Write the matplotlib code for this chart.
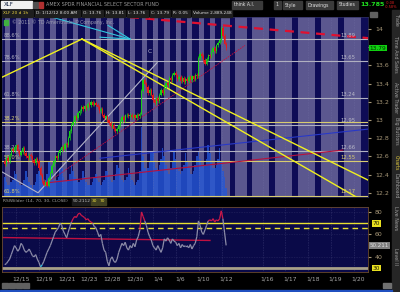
import matplotlib
matplotlib.use('Agg')
import matplotlib.pyplot as plt
import numpy as np
from matplotlib.collections import LineCollection
from matplotlib.patches import Rectangle
import matplotlib.transforms as mtransforms

# ---- data (XLF, 20 days of 1h bars) ----
days = ['12/14', '12/15', '12/16', '12/19', '12/20', '12/21', '12/22', '12/23', '12/27', '12/28',
        '12/29', '12/30', '1/3', '1/4', '1/5', '1/6', '1/9', '1/10', '1/11', '1/12']
future_days = ['1/13', '1/16', '1/17', '1/18', '1/19', '1/20']
labeled_days = ['12/15', '12/19', '12/21', '12/23', '12/28', '12/30', '1/4', '1/6', '1/10', '1/12',
                '1/16', '1/17', '1/18', '1/19', '1/20']

first_open = 12.55
closes = [
    [12.52, 12.58, 12.55, 12.62, 12.68, 12.66, 12.70],
    [12.72, 12.66, 12.62, 12.65, 12.69, 12.64, 12.60],
    [12.58, 12.62, 12.60, 12.56, 12.53, 12.57, 12.55],
    [12.47, 12.40, 12.33, 12.29, 12.32, 12.28, 12.36],
    [12.42, 12.50, 12.55, 12.60, 12.58, 12.64, 12.67],
    [12.70, 12.68, 12.74, 12.72, 12.80, 12.88, 12.95],
    [12.98, 13.04, 13.02, 13.08, 13.10, 13.14, 13.12],
    [13.15, 13.13, 13.18, 13.16, 13.20, 13.17, 13.19],
    [13.17, 13.14, 13.10, 13.12, 13.06, 13.02, 13.04],
    [13.00, 12.97, 12.93, 12.95, 12.90, 12.88, 12.90],
    [12.94, 12.99, 13.03, 13.00, 13.05, 13.06, 13.04],
    [13.06, 13.03, 13.05, 13.02, 13.06, 13.04, 13.07],
    [13.32, 13.44, 13.40, 13.36, 13.30, 13.33, 13.28],
    [13.22, 13.19, 13.24, 13.21, 13.28, 13.33, 13.30],
    [13.36, 13.41, 13.38, 13.46, 13.44, 13.50, 13.52],
    [13.49, 13.45, 13.47, 13.43, 13.46, 13.42, 13.45],
    [13.43, 13.47, 13.44, 13.48, 13.45, 13.50, 13.48],
    [13.68, 13.73, 13.70, 13.66, 13.62, 13.67, 13.71],
    [13.70, 13.75, 13.79, 13.76, 13.82, 13.85, 13.88],
    [14.01, 13.92, 13.84, 13.79],
]
# volume per hourly bar, millions of shares
volumes = [
    [7, 5, 4, 4, 5, 6, 9],
    [8, 5, 4, 4, 4, 6, 9],
    [7, 5, 4, 3, 4, 5, 8],
    [9, 7, 6, 5, 6, 8, 12],
    [11, 8, 6, 5, 6, 7, 10],
    [10, 7, 6, 5, 6, 8, 11],
    [9, 7, 6, 5, 5, 6, 9],
    [7, 5, 4, 4, 4, 5, 7],
    [8, 6, 5, 4, 5, 6, 9],
    [9, 7, 6, 5, 6, 8, 11],
    [10, 7, 6, 5, 6, 7, 10],
    [8, 6, 5, 4, 5, 6, 9],
    [24, 14, 10, 9, 10, 12, 16],
    [15, 12, 10, 9, 11, 13, 17],
    [14, 11, 9, 8, 10, 12, 16],
    [13, 10, 9, 8, 9, 11, 15],
    [12, 10, 8, 8, 9, 11, 14],
    [16, 13, 11, 10, 11, 13, 18],
    [15, 12, 10, 10, 11, 13, 17],
    [12, 9, 7, 3],
]
rsi_values = [
    [33, 34, 36, 38, 42, 46, 50],
    [48, 45, 47, 52, 50, 46, 44],
    [45, 47, 44, 41, 40, 42, 38],
    [35, 31, 33, 36, 40, 44, 47],
    [50, 54, 58, 62, 64, 66, 70],
    [68, 63, 60, 57, 62, 67, 71],
    [74, 76, 75, 78, 79, 77, 76],
    [75, 73, 74, 72, 71, 70, 67],
    [66, 62, 58, 60, 52, 46, 44],
    [36, 32, 38, 40, 36, 35, 38],
    [44, 48, 52, 50, 53, 48, 46],
    [50, 48, 52, 49, 55, 58, 64],
    [80, 76, 72, 68, 62, 58, 55],
    [50, 48, 46, 50, 47, 44, 48],
    [56, 54, 57, 55, 52, 56, 54],
    [53, 50, 52, 48, 51, 49, 50],
    [50, 48, 51, 47, 50, 52, 58],
    [72, 68, 62, 60, 64, 68, 72],
    [73, 72, 74, 71, 73, 72, 74],
    [81, 74, 62, 50.21],
]

price_ticks = [12.2, 12.4, 12.6, 12.8, 13.0, 13.2, 13.4, 13.6, 13.8, 14.0]
gray_fib = [13.89, 13.65, 13.24, 12.95, 12.66]
gray_fib_pct = ['88.6%', '78.6%', '61.8%', '', '38.2%']
gray_fib_tag = ['13.89', '13.65', '13.24', '12.95', '12.66']
yellow_fib = [12.98, 12.55, 12.17]
yellow_fib_pct = ['38.2%', '50.0%', '61.8%']
yellow_fib_tag = ['', '12.55', '12.17']

# drawings: anchor points as (day position, price)
wedge_up = [(-0.67, 13.47), (6.35, 13.89)]
fan_upper = [(6.35, 13.89), (31.45, 12.34)]
fan_lower = [(6.35, 13.89), (31.45, 12.08)]
cyan_arrow = [[(3.72, 14.13), (10.57, 13.89)], [(8.63, 14.04), (10.57, 13.89)],
              [(7.93, 13.91), (10.57, 13.89)]]
red_dash = [(10.57, 14.13), (31.45, 13.90)]
red_steep = [(3.28, 12.31), (20.65, 13.82)]
red_flat = [(3.28, 12.31), (29.25, 12.67)]
blue_avg = [(7.93, 12.58), (31.45, 12.90)]
gray_v = [(-0.67, 12.43), (2.49, 12.20), (12.94, 13.63)]
rsi_red = [(-0.67, 57.2), (17.58, 54.6)]
last_price = 13.79
last_rsi = 50.211

# ---- layout ----
W, H = 400, 292
XLIM = (-0.67, 31.45)
BG_DARK = '#0e0c56'
BG_LIGHT = '#5b578f'
TAN = '#a89878'

fig = plt.figure(figsize=(W / 100, H / 100), dpi=100, facecolor='black')


def fx(x):
    return x / W


def fy(y):
    return 1 - y / H


def frame(x0, y0, x1, y1):
    return [fx(x0), fy(y1), (x1 - x0) / W, (y1 - y0) / H]


def box(x0, y0, x1, y1, color, z=1):
    fig.patches.append(Rectangle((fx(x0), fy(y1)), (x1 - x0) / W, (y1 - y0) / H,
                                 transform=fig.transFigure, color=color, zorder=z))


def label(x, y, s, color='#c8c8c8', size=4.2, **kw):
    fig.text(fx(x), fy(y), s, color=color, fontsize=size, va='center', zorder=5, **kw)


# bar positions: 7 hourly bars per day
bar_x, bar_c = [], []
for i, day in enumerate(closes):
    for k, c in enumerate(day):
        bar_x.append(i - 0.5 + (k + 0.5) / 7)
        bar_c.append(c)
bar_x = np.array(bar_x)
bar_c = np.array(bar_c)
bar_o = np.concatenate([[first_open], bar_c[:-1]])
bar_v = np.concatenate([np.array(v, float) for v in volumes])
bar_r = np.concatenate([np.array(r, float) for r in rsi_values])

# tick positions for past and future days
day_pos = {d: i for i, d in enumerate(days)}
for k, d in enumerate(future_days):
    day_pos[d] = len(days) - 1 + 1.6 + 2 * k
tick_x = [day_pos[d] for d in labeled_days]

# session shading
bands = [(i - 0.42, i + 0.03) for i in range(len(days) - 1)]
bands.append((len(days) - 1.42, len(days) - 0.7))
for d in future_days:
    x = day_pos[d]
    start = max(bands[-1][1] + 0.5, x - 1.3)
    bands.append((start, x + 0.2))

# ---- background + volume ----
bg = fig.add_axes(frame(2, 17, 368, 197))
bg.set_facecolor(BG_DARK)
for a, b in bands:
    bg.axvspan(a, b, color=BG_LIGHT, lw=0)
bg.bar(bar_x, bar_v, width=1 / 7, color='#2457d6', alpha=0.8, lw=0)
bg.set_xlim(XLIM)
bg.set_ylim(0, 62)
for t in tick_x:
    bg.axvline(t - 0.4, color='#8080b0', lw=0.4, ls=(0, (1, 2)), alpha=0.6)
bg.set_xticks([])
bg.set_yticks([])
for s in bg.spines.values():
    s.set_color('#303060')
    s.set_linewidth(0.5)

# ---- price overlay ----
ax = fig.add_axes(frame(2, 17, 368, 197))
ax.set_zorder(bg.get_zorder() + 1)
ax.patch.set_visible(False)
ax.set_xlim(XLIM)
ax.set_ylim(12.154, 14.132)

for lvl in gray_fib:
    ax.axhline(lvl, color='#b0b0c0', lw=0.8)
for lvl in yellow_fib:
    ax.axhline(lvl, color='#d8cc70', lw=0.8)
ax.axhline(12.145, color='#b0b0a0', lw=1.0)


def draw(pts, **kw):
    xs, ys = zip(*pts)
    ax.plot(xs, ys, **kw)


draw(blue_avg, color='#2838c8', lw=0.8)
draw(red_flat, color='#b8103c', lw=0.8)
draw(red_steep, color='#c8103c', lw=0.6, ls=(0, (2, 1)))
draw(gray_v, color='#b4b4c8', lw=0.8)
draw(wedge_up, color='#f0f020', lw=1.0)
draw(fan_upper, color='#f0f020', lw=1.0)
draw(fan_lower, color='#f0f020', lw=1.0)
draw(red_dash, color='#e01030', lw=1.6, ls=(0, (4, 3)))
for seg in cyan_arrow:
    draw(seg, color='#30c8e0', lw=0.8)
ax.text(12.33, 13.75, 'C', color='#b8b8c8', fontsize=4.2, ha='center', va='center')

# candles
wick = 0.02
up = bar_c >= bar_o
colors = np.where(up, '#18d018', '#e81818')
hi = np.maximum(bar_o, bar_c) + wick
lo = np.minimum(bar_o, bar_c) - wick
ax.vlines(bar_x, lo, hi, colors=colors, lw=0.5, zorder=4)
ax.bar(bar_x, np.maximum(np.abs(bar_c - bar_o), 0.006), bottom=np.minimum(bar_o, bar_c),
       width=0.11, color=colors, lw=0, zorder=5)

ax.set_xticks([])
ax.yaxis.tick_right()
ax.set_yticks(price_ticks)
# the 13.8 label sits under the last-price flag in the reference
ax.set_yticklabels(['' if abs(p - last_price) < 0.05 else '%g' % p for p in price_ticks])
ax.tick_params(axis='y', length=2, colors=TAN, labelsize=4.5, pad=3)
for s in ax.spines.values():
    s.set_visible(False)

# fib labels
ytr = mtransforms.blended_transform_factory(ax.transAxes, ax.transData)
for lvl, pct, tag in zip(gray_fib, gray_fib_pct, gray_fib_tag):
    ax.text(0.004, lvl + 0.012, pct, transform=ytr, color='#b0b0c0', fontsize=3.8, va='bottom')
    ax.text(0.945, lvl + 0.012, tag, transform=ytr, color='#b8b8c8', fontsize=3.8, va='bottom', ha='center')
for lvl, pct, tag in zip(yellow_fib, yellow_fib_pct, yellow_fib_tag):
    ax.text(0.004, lvl + 0.012, pct, transform=ytr, color='#d8cc70', fontsize=3.8, va='bottom')
    ax.text(0.945, lvl + 0.012, tag, transform=ytr, color='#d8cc70', fontsize=3.8, va='bottom', ha='center')
ax.text(1.005, last_price, '%.2f' % last_price, transform=ytr, color='#003000', fontsize=4.2,
        va='center', ha='left', bbox=dict(boxstyle='square,pad=0.15', fc='#10d010', ec='none'), zorder=10)
ax.text(0.028, 0.985, '\u00a9 2011 \u00a9 TD Ameritrade IP Company, Inc.', transform=ax.transAxes,
        color='#9a9ab0', fontsize=3.4, va='top')
ax.add_patch(Rectangle((0.006, 0.955), 0.01, 0.028, transform=ax.transAxes, color='#40b040'))

# ---- RSI panel ----
rax = fig.add_axes(frame(2, 207, 368, 272))
rax.set_facecolor('#0a0a48')
rax.set_xlim(XLIM)
rax.set_ylim(26.5, 84.4)
for t in tick_x:
    rax.axvline(t - 0.4, color='#505088', lw=0.4, ls=(0, (1, 2)))
for lvl in (80, 60, 40):
    rax.axhline(lvl, color='#3c3c70', lw=0.4, ls=(0, (1, 2)))
rax.axhline(70, color='#e8e030', lw=1.0)
rax.axhline(66, color='#e8e030', lw=1.0, ls=(0, (4, 3)))
rax.axhline(30, color='#a8a088', lw=2.0)
xs, ys = zip(*rsi_red)
rax.plot(xs, ys, color='#c01040', lw=1.0)

pts = np.column_stack([bar_x, bar_r])
segs = np.stack([pts[:-1], pts[1:]], axis=1)
mid = (bar_r[:-1] + bar_r[1:]) / 2
seg_col = ['#d01848' if m > 70 else ('#30c0e0' if m < 33 else '#8c8ca8') for m in mid]
rax.add_collection(LineCollection(segs, colors=seg_col, linewidths=0.9))

rax.yaxis.tick_right()
rax.set_yticks([80, 60, 40])
rax.tick_params(axis='y', length=2, colors=TAN, labelsize=4.5, pad=3)
rax.set_xticks(tick_x)
rax.set_xticklabels(labeled_days)
rax.tick_params(axis='x', length=0, colors='#a8a8a8', labelsize=4.3, pad=3)
for s in rax.spines.values():
    s.set_color('#6a4a30')
    s.set_linewidth(0.6)
rtr = mtransforms.blended_transform_factory(rax.transAxes, rax.transData)
for lvl in (70, 30):
    rax.text(1.012, lvl, str(lvl), transform=rtr, color='#202000', fontsize=4.2, va='center',
             bbox=dict(boxstyle='square,pad=0.15', fc='#e8e020', ec='none'))
rax.text(1.005, last_rsi, '%.3f' % last_rsi, transform=rtr, color='#e0e0e0', fontsize=4.0,
         va='center', bbox=dict(boxstyle='square,pad=0.15', fc='#808080', ec='none'))

# ---- header rows ----
box(1, 1, 32, 8, '#f0f0f0')
label(4, 4.5, 'XLF', color='#102040', size=4.0)
box(33, 2, 38, 8, '#505050')
box(39, 2, 43, 8, '#b03030')
label(46, 4.5, 'AMEX SPDR FINANCIAL SELECT SECTOR FUND', color='#9a9a9a', size=3.5)
for x0, x1, s in [(232, 262, 'think A.I.'), (274, 281, '1'), (283, 302, 'Style'),
                  (306, 333, 'Drawings'), (337, 358, 'Studies')]:
    box(x0, 1, x1, 9, '#3a3a3a')
    label(x0 + 1.5, 5, s, color='#e0e0e0', size=3.3)
label(360, 5, '13.785', color='#20e020', size=4.6, weight='bold')

cells = [(2, 33, 'XLF 20 d 1h', '#e8d040'), (35, 80, 'D: 1/12/12 8:00 AM', '#e0e0e0'),
         (82, 103, 'O: 13.76', '#e0e0e0'), (105, 125, 'H: 13.81', '#e0e0e0'),
         (127, 148, 'L: 13.76', '#e0e0e0'), (150, 170, 'C: 13.79', '#e0e0e0'),
         (172, 190, 'R: 0.05', '#e0e0e0'), (192, 232, 'Volume 2,889,248', '#e0e0e0')]
for x0, x1, s, c in cells:
    box(x0, 10, x1, 17, '#1e1e1e')
    label(x0 + 1, 13.5, s, color=c, size=3.1)

# RSI title strip
label(3, 201.5, 'RSIWilder (14, 70, 30, CLOSE)', color='#a0a0a0', size=3.2)
box(72, 198, 90, 205, '#1a1a1a')
label(73, 201.5, '50.2112', color='#c0c0c0', size=3.2)
box(91, 198, 98, 205, '#404020')
label(92, 201.5, '30', color='#f0e040', size=3.2)
box(99, 198, 106, 205, '#404020')
label(100, 201.5, '70', color='#f0e040', size=3.2)

# side tabs
box(392, 10, 400, 292, '#262626', z=0)
label(386, 2.6, '-0.08', color='#e02020', size=2.5)
label(385, 7.0, '-0.58%', color='#e02020', size=2.5)
for yc, s, c in [(20, 'Trade', '#a0a0a0'), (54, 'Time And Sales', '#a0a0a0'),
                 (98, 'Active Trader', '#a0a0a0'), (131, 'Big Buttons', '#a0a0a0'),
                 (163, 'Charts', '#e8d040'), (186, 'Dashboard', '#a0a0a0'),
                 (218, 'Live News', '#a0a0a0'), (256, 'Level II', '#a0a0a0')]:
    fig.text(fx(396), fy(yc), s, color=c, fontsize=3.4, rotation=270, ha='center', va='center')

# bottom toolbar
for x0 in (2, 9, 16, 23):
    box(x0, 283, x0 + 6, 288, '#606060')
box(383, 283, 391, 288, '#707070')
box(0, 289.5, 392, 291, '#2050c0')
box(370, 12, 377, 17, '#606060')

fig.savefig('out.png', dpi=100, facecolor='black')
